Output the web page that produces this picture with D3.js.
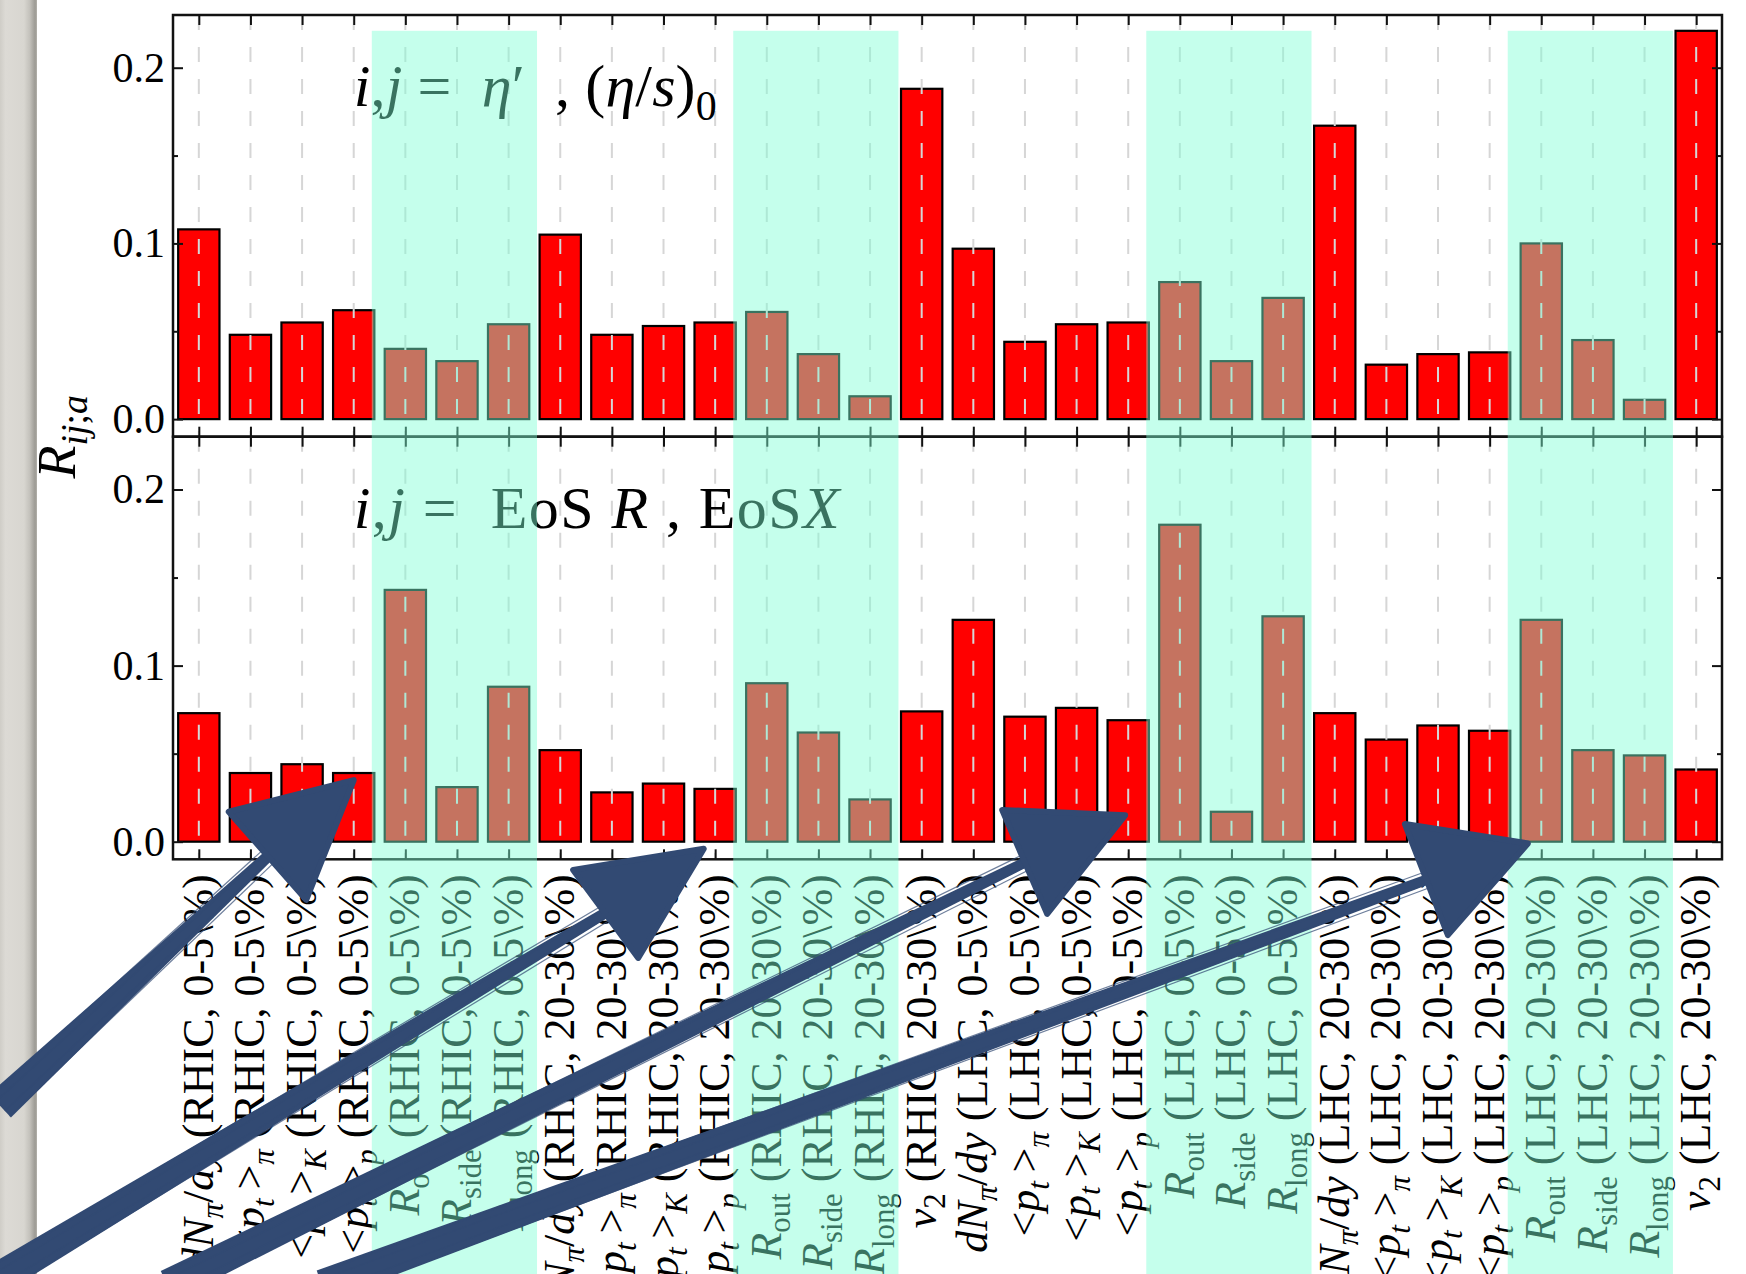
<!DOCTYPE html>
<head>
  <meta charset="utf-8">
  <script src="https://d3js.org/d3.v7.min.js"></script>
  <style>
body {
	margin:0;
	background:#fff;
	}
svg text {
	font-family: "Liberation Serif", "DejaVu Serif", serif;
	fill:#000;
	white-space: pre;
	}
  </style>
</head>

<body>
  <div id="graph"></div>
<script>
// categories, written as matplotlib mathtext like on the original plot
var categories = [
  "$dN_\\pi/dy$ (RHIC, 0-5\\%)",
  "$<p_t>_\\pi$ (RHIC, 0-5\\%)",
  "$<p_t>_K$ (RHIC, 0-5\\%)",
  "$<p_t>_p$ (RHIC, 0-5\\%)",
  "$R_{\\rm out}$ (RHIC, 0-5\\%)",
  "$R_{\\rm side}$ (RHIC, 0-5\\%)",
  "$R_{\\rm long}$ (RHIC, 0-5\\%)",
  "$dN_\\pi/dy$ (RHIC, 20-30\\%)",
  "$<p_t>_\\pi$ (RHIC, 20-30\\%)",
  "$<p_t>_K$ (RHIC, 20-30\\%)",
  "$<p_t>_p$ (RHIC, 20-30\\%)",
  "$R_{\\rm out}$ (RHIC, 20-30\\%)",
  "$R_{\\rm side}$ (RHIC, 20-30\\%)",
  "$R_{\\rm long}$ (RHIC, 20-30\\%)",
  "$v_2$ (RHIC, 20-30\\%)",
  "$dN_\\pi/dy$ (LHC, 0-5\\%)",
  "$<p_t>_\\pi$ (LHC, 0-5\\%)",
  "$<p_t>_K$ (LHC, 0-5\\%)",
  "$<p_t>_p$ (LHC, 0-5\\%)",
  "$R_{\\rm out}$ (LHC, 0-5\\%)",
  "$R_{\\rm side}$ (LHC, 0-5\\%)",
  "$R_{\\rm long}$ (LHC, 0-5\\%)",
  "$dN_\\pi/dy$ (LHC, 20-30\\%)",
  "$<p_t>_\\pi$ (LHC, 20-30\\%)",
  "$<p_t>_K$ (LHC, 20-30\\%)",
  "$<p_t>_p$ (LHC, 20-30\\%)",
  "$R_{\\rm out}$ (LHC, 20-30\\%)",
  "$R_{\\rm side}$ (LHC, 20-30\\%)",
  "$R_{\\rm long}$ (LHC, 20-30\\%)",
  "$v_2$ (LHC, 20-30\\%)"
];

// R_ij;a for the two parameter pairs
var etaValues = [0.108, 0.048, 0.055, 0.062, 0.040, 0.033, 0.054, 0.105, 0.048, 0.053,
                 0.055, 0.061, 0.037, 0.013, 0.188, 0.097, 0.044, 0.054, 0.055, 0.078,
                 0.033, 0.069, 0.167, 0.031, 0.037, 0.038, 0.100, 0.045, 0.011, 0.221];
var eosValues = [0.073, 0.039, 0.044, 0.039, 0.143, 0.031, 0.088, 0.052, 0.028, 0.033,
                 0.030, 0.090, 0.062, 0.024, 0.074, 0.126, 0.071, 0.076, 0.069, 0.180,
                 0.017, 0.128, 0.073, 0.058, 0.066, 0.063, 0.126, 0.052, 0.049, 0.041];

var panelTitles = ["$i,j=$ $\\eta'$  , $(\\eta/s)_0$", "$i,j=$ EoS $R$ , EoS$X$"];
var yTickValues = [0.0, 0.1, 0.2];
var yMinorTicks = [0.05, 0.15];

// HBT radii groups (shaded), in category units
var bands = [[3.35, 6.55], [10.35, 13.55], [18.35, 21.55], [25.35, 28.55]];

// hand drawn arrows on top of the figure, in lower panel data units
var arrows = [
  {from: [-3.85, -0.150], tip: [3.00, 0.035], c1: [0.58, 0.017], c2: [2.08, -0.033]},
  {from: [-3.95, -0.249], tip: [9.78, -0.004], c1: [7.25, -0.016], c2: [8.51, -0.066]},
  {from: [-0.60, -0.252], tip: [17.94, 0.015], c1: [15.56, 0.018], c2: [16.43, -0.041]},
  {from: [2.39, -0.252], tip: [25.74, -0.001], c1: [23.36, 0.010], c2: [24.19, -0.053]}
];

var W = 1746, H = 1274;
var serif = '"Liberation Serif", "DejaVu Serif", serif';

var x = d3.scaleLinear().domain([-0.5, 29.5]).range([173, 1722]);
var yTop = d3.scaleLinear().domain([-0.01, 0.23]).range([436.7, 15]);
var yBot = d3.scaleLinear().domain([-0.01, 0.23]).range([859.3, 436.7]);

var svg = d3.select("#graph")
  .append("svg")
  .attr("width", W)
  .attr("height", H)
  .style("display", "block");

// ---- tiny mathtext -> tspans
var greek = {pi: "\u03c0", eta: "\u03b7"};
function mathTokens(src) {
  var out = [];
  src.split("$").forEach(function(p, k) {
    if (k % 2 === 0) { if (p) out.push({t: p, it: false, sub: false}); }
    else parseMath(p, out);
  });
  return out;
}
function parseMath(s, out) {
  var i = 0;
  function atom(sub, rm) {
    var c = s[i];
    if (c === "{") {
      i++;
      var roman = rm;
      while (i < s.length && s[i] !== "}") {
        if (s.substr(i, 3) === "\\rm") { roman = true; i += 3; continue; }
        atom(sub, roman);
      }
      i++;
      return;
    }
    if (c === "\\") {
      var m = /^\\([a-zA-Z]+)/.exec(s.slice(i));
      i += m[0].length;
      out.push({t: greek[m[1]] || m[1], it: !rm, sub: sub});
      return;
    }
    i++;
    if (c === " ") return;
    if (c === "_") { atom(true, rm); return; }
    if (c === "'") { out.push({t: "\u2032", it: false, sub: sub}); return; }
    if (c === "=") { out.push({t: "\u2005=\u2005", it: false, sub: sub}); return; }
    if (c === ">") { out.push({t: "\u2009>", it: false, sub: sub}); return; }
    out.push({t: c, it: /[a-zA-Z]/.test(c) && !rm, sub: sub});
  }
  while (i < s.length) atom(false, false);
}
function richText(sel, src, size) {
  var shift = 0;
  mathTokens(src).forEach(function(tk) {
    var target = tk.sub ? 0.22 * size : 0;
    sel.append("tspan")
      .attr("dy", target - shift)
      .style("font-style", tk.it ? "italic" : "normal")
      .style("font-size", (tk.sub ? 0.7 * size : size) + "px")
      .text(tk.t);
    shift = target;
  });
}

// ---- paper edge on the left
var defs = svg.append("defs");
var grad = defs.append("linearGradient").attr("id", "paper");
[["0%", "#cfcdc7"], ["15%", "#dcdad5"], ["65%", "#d8d6d0"], ["80%", "#c4c2bc"],
 ["95%", "#9c9a94"], ["100%", "#b4b2ac"]].forEach(function(s) {
  grad.append("stop").attr("offset", s[0]).attr("stop-color", s[1]);
});
svg.append("rect").attr("x", 0).attr("y", 0).attr("width", 37).attr("height", H)
  .attr("fill", "url(#paper)");

// ---- the two panels
var panels = [
  {values: etaValues, title: panelTitles[0], titleLength: 363, y: yTop},
  {values: eosValues, title: panelTitles[1], titleLength: 486, y: yBot}
];

panels.forEach(function(p, k) {
  var y = p.y;
  var g = svg.append("g").attr("class", "panel");
  var top = y.range()[1], bottom = y.range()[0];

  // bars
  g.selectAll(".bar")
    .data(p.values)
    .enter()
    .append("rect")
      .attr("class", "bar")
      .attr("x", function(d, i) { return x(i - 0.4); })
      .attr("width", x(0.4) - x(-0.4))
      .attr("y", function(d) { return y(d); })
      .attr("height", function(d) { return y(0) - y(d); })
      .attr("fill", "#ff0000")
      .attr("stroke", "#000")
      .attr("stroke-width", 2.2);

  // dashed grid at every category
  g.selectAll(".grid")
    .data(categories)
    .enter()
    .append("line")
      .attr("class", "grid")
      .attr("x1", function(d, i) { return x(i); })
      .attr("x2", function(d, i) { return x(i); })
      .attr("y1", top)
      .attr("y2", bottom)
      .attr("stroke", "#d6d6d6")
      .attr("stroke-width", 2)
      .attr("stroke-dasharray", "15,17");

  // ticks all around, pointing in
  var idx = d3.range(categories.length);
  var axB = g.append("g").attr("transform", "translate(0," + bottom + ")")
    .call(d3.axisBottom(x).tickValues(idx).tickSize(-10).tickFormat(""));
  var axT = g.append("g").attr("transform", "translate(0," + top + ")")
    .call(d3.axisTop(x).tickValues(idx).tickSize(-10).tickFormat(""));
  var axL = g.append("g").attr("transform", "translate(" + x.range()[0] + ",0)")
    .call(d3.axisLeft(y).tickValues(yTickValues).tickSize(-10).tickPadding(8)
      .tickFormat(d3.format(".1f")));
  var axLm = g.append("g").attr("transform", "translate(" + x.range()[0] + ",0)")
    .call(d3.axisLeft(y).tickValues(yMinorTicks).tickSize(-5).tickFormat(""));
  var axR = g.append("g").attr("transform", "translate(" + x.range()[1] + ",0)")
    .call(d3.axisRight(y).tickValues(yTickValues).tickSize(-10).tickFormat(""));
  var axRm = g.append("g").attr("transform", "translate(" + x.range()[1] + ",0)")
    .call(d3.axisRight(y).tickValues(yMinorTicks).tickSize(-5).tickFormat(""));
  [axB, axT, axL, axLm, axR, axRm].forEach(function(a) {
    a.select(".domain").remove();
    a.selectAll("line").attr("stroke", "#111").attr("stroke-width", 2);
  });
  axL.selectAll("text")
    .style("font-family", serif)
    .style("font-size", "42px")
    .attr("fill", "#000");

  // frame
  g.append("rect")
    .attr("x", x.range()[0])
    .attr("y", top)
    .attr("width", x.range()[1] - x.range()[0])
    .attr("height", bottom - top)
    .attr("fill", "none")
    .attr("stroke", "#111")
    .attr("stroke-width", 2.5);

  // panel title
  var t = g.append("text")
    .attr("x", x(3))
    .attr("y", y(0.178))
    .attr("textLength", p.titleLength)
    .attr("lengthAdjust", "spacing");
  richText(t, p.title, 60);
});

// category labels under the lower panel
svg.append("g").attr("class", "xlabels")
  .selectAll("text")
  .data(categories)
  .enter()
  .append("text")
    .attr("transform", function(d, i) {
      return "translate(" + x(i) + "," + (yBot.range()[0] + 15) + ") rotate(-90)";
    })
    .attr("y", 14)
    .attr("text-anchor", "end")
    .each(function(d) { richText(d3.select(this), d, 44); });

// y axis label, centred on the two panels
var yl = svg.append("text")
  .attr("transform", "translate(75," + yTop.range()[0] + ") rotate(-90)")
  .attr("text-anchor", "middle");
richText(yl, "$R_{ij;a}$", 54);

// shaded groups, laid over the whole figure
svg.append("g").attr("class", "bands")
  .selectAll("rect")
  .data(bands)
  .enter()
  .append("rect")
    .attr("x", function(d) { return x(d[0]); })
    .attr("width", function(d) { return x(d[1]) - x(d[0]); })
    .attr("y", yTop(0.221))
    .attr("height", H - yTop(0.221))
    .attr("fill", "#7fffd4")
    .attr("fill-opacity", 0.45);

// arrows
var ink = "#324a73";
var ga = svg.append("g").attr("class", "arrows");
arrows.forEach(function(a) {
  var S = [x(a.from[0]), yBot(a.from[1])],
      T = [x(a.tip[0]), yBot(a.tip[1])],
      C1 = [x(a.c1[0]), yBot(a.c1[1])],
      C2 = [x(a.c2[0]), yBot(a.c2[1])];
  var M = [(C1[0] + C2[0]) / 2, (C1[1] + C2[1]) / 2];
  var E = [M[0] + (T[0] - M[0]) * 0.2, M[1] + (T[1] - M[1]) * 0.2];
  var dx = E[0] - S[0], dy = E[1] - S[1], len = Math.sqrt(dx * dx + dy * dy);
  var n = [-dy / len, dx / len];
  var w0 = 16, w1 = 5;
  var shaft = [
    [S[0] + n[0] * w0, S[1] + n[1] * w0],
    [E[0] + n[0] * w1, E[1] + n[1] * w1],
    [E[0] - n[0] * w1, E[1] - n[1] * w1],
    [S[0] - n[0] * w0, S[1] - n[1] * w0]
  ];
  ga.append("path")
    .attr("d", d3.line()(shaft) + "Z")
    .attr("fill", ink);
  // a few loose pen strokes along the shaft
  [-13, -6, 7, 14].forEach(function(o) {
    ga.append("line")
      .attr("x1", S[0] + n[0] * o).attr("y1", S[1] + n[1] * o)
      .attr("x2", E[0] + n[0] * o * 0.6).attr("y2", E[1] + n[1] * o * 0.6)
      .attr("stroke", ink).attr("stroke-width", 1.2).attr("opacity", 0.7);
  });
  ga.append("path")
    .attr("d", d3.line()([C1, T, C2]) + "Z")
    .attr("fill", ink)
    .attr("stroke", ink)
    .attr("stroke-width", 6)
    .attr("stroke-linejoin", "round");
});
</script>
</body>
